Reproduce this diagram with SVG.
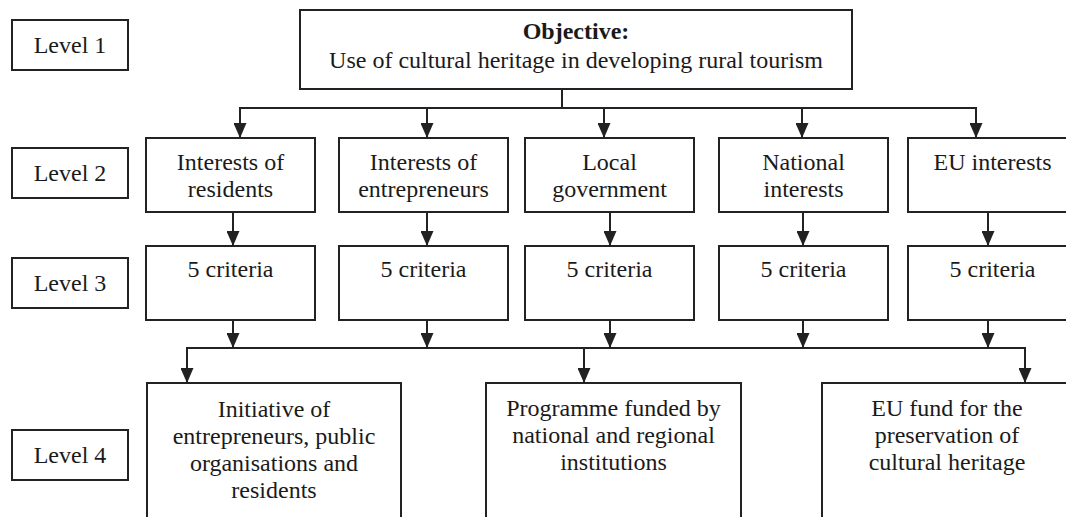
<svg xmlns="http://www.w3.org/2000/svg" width="1066" height="517" viewBox="0 0 1066 517">
<style>
rect{fill:#fff;stroke:#222;stroke-width:2}
text{font-size:24px;fill:#1a1a1a;text-anchor:middle}
.b{font-weight:bold}
.c line{stroke:#222;stroke-width:2;fill:none}
</style>
<defs>
<marker id="ah" viewBox="0 0 15 13" refX="15" refY="6.5" markerWidth="15" markerHeight="13" markerUnits="userSpaceOnUse" orient="auto">
<path d="M0,0 L15,6.5 L0,13 Z" fill="#222"/>
</marker>
</defs>
<rect width="1066" height="517" style="fill:#fff;stroke:none"/>
<g font-family="'Liberation Serif', 'Times New Roman', Times, serif">
<g id="level1"><rect x="12" y="20" width="116" height="50"/><text x="70" y="53">Level 1</text></g>
<g id="level2"><rect x="12" y="148" width="116" height="50"/><text x="70" y="181">Level 2</text></g>
<g id="level3"><rect x="12" y="258" width="116" height="50"/><text x="70" y="291">Level 3</text></g>
<g id="level4"><rect x="12" y="430" width="116" height="50"/><text x="70" y="463">Level 4</text></g>
<g id="objective"><rect x="300" y="10" width="552" height="79"/><text x="576" y="39" class="b">Objective:</text><text x="576" y="68">Use of cultural heritage in developing rural tourism</text></g>
<g id="residents"><rect x="146" y="138" width="169" height="74"/><text x="230.5" y="170">Interests of</text><text x="230.5" y="197">residents</text></g>
<g id="entrepreneurs"><rect x="339" y="138" width="169" height="74"/><text x="423.5" y="170">Interests of</text><text x="423.5" y="197">entrepreneurs</text></g>
<g id="localgov"><rect x="525" y="138" width="169" height="74"/><text x="609.5" y="170">Local</text><text x="609.5" y="197">government</text></g>
<g id="national"><rect x="719" y="138" width="169" height="74"/><text x="803.5" y="170">National</text><text x="803.5" y="197">interests</text></g>
<g id="eu"><rect x="908" y="138" width="169" height="74"/><text x="992.5" y="170">EU interests</text></g>
<g id="crit1"><rect x="146" y="246" width="169" height="74"/><text x="230.5" y="277">5 criteria</text></g>
<g id="crit2"><rect x="339" y="246" width="169" height="74"/><text x="423.5" y="277">5 criteria</text></g>
<g id="crit3"><rect x="525" y="246" width="169" height="74"/><text x="609.5" y="277">5 criteria</text></g>
<g id="crit4"><rect x="719" y="246" width="169" height="74"/><text x="803.5" y="277">5 criteria</text></g>
<g id="crit5"><rect x="908" y="246" width="169" height="74"/><text x="992.5" y="277">5 criteria</text></g>
<g id="initiative"><rect x="147" y="383" width="254" height="150"/><text x="274" y="417">Initiative of</text><text x="274" y="444">entrepreneurs, public</text><text x="274" y="471">organisations and</text><text x="274" y="498">residents</text></g>
<g id="programme"><rect x="486" y="383" width="255" height="150"/><text x="613.5" y="416">Programme funded by</text><text x="613.5" y="443">national and regional</text><text x="613.5" y="470">institutions</text></g>
<g id="eufund"><rect x="822" y="383" width="250" height="150"/><text x="947" y="416">EU fund for the</text><text x="947" y="443">preservation of</text><text x="947" y="470">cultural heritage</text></g>
</g>
<g id="connectors" class="c">
<line x1="562" y1="89" x2="562" y2="108"/>
<line x1="239" y1="108" x2="977" y2="108"/>
<line x1="240" y1="108" x2="240" y2="138" marker-end="url(#ah)"/>
<line x1="427" y1="108" x2="427" y2="138" marker-end="url(#ah)"/>
<line x1="604" y1="108" x2="604" y2="138" marker-end="url(#ah)"/>
<line x1="802" y1="108" x2="802" y2="138" marker-end="url(#ah)"/>
<line x1="976" y1="108" x2="976" y2="138" marker-end="url(#ah)"/>
<line x1="233" y1="212" x2="233" y2="246" marker-end="url(#ah)"/>
<line x1="427" y1="212" x2="427" y2="246" marker-end="url(#ah)"/>
<line x1="610" y1="212" x2="610" y2="246" marker-end="url(#ah)"/>
<line x1="803" y1="212" x2="803" y2="246" marker-end="url(#ah)"/>
<line x1="988" y1="212" x2="988" y2="246" marker-end="url(#ah)"/>
<line x1="233" y1="320" x2="233" y2="348" marker-end="url(#ah)"/>
<line x1="427" y1="320" x2="427" y2="348" marker-end="url(#ah)"/>
<line x1="610" y1="320" x2="610" y2="348" marker-end="url(#ah)"/>
<line x1="803" y1="320" x2="803" y2="348" marker-end="url(#ah)"/>
<line x1="988" y1="320" x2="988" y2="348" marker-end="url(#ah)"/>
<line x1="186" y1="348" x2="1026" y2="348"/>
<line x1="187" y1="348" x2="187" y2="383" marker-end="url(#ah)"/>
<line x1="584" y1="348" x2="584" y2="383" marker-end="url(#ah)"/>
<line x1="1025" y1="348" x2="1025" y2="383" marker-end="url(#ah)"/>
</g>
</svg>
